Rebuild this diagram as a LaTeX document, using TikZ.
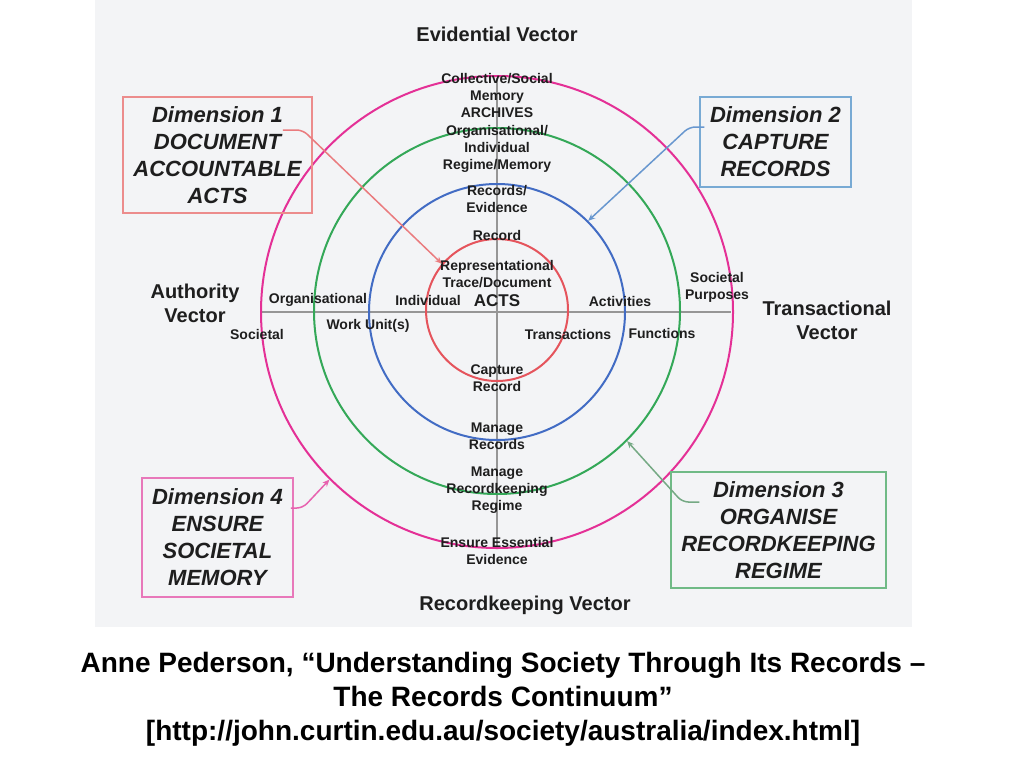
\documentclass[tikz,border=0pt]{standalone}
\usepackage{fontspec}
\setmainfont{Liberation Sans}
\usetikzlibrary{arrows.meta}
\definecolor{rred}{RGB}{229,84,92}
\definecolor{rblue}{RGB}{66,108,196}
\definecolor{rgreen}{RGB}{52,168,88}
\definecolor{rpink}{RGB}{228,48,150}
\definecolor{bred}{RGB}{236,140,140}
\definecolor{bblue}{RGB}{120,170,212}
\definecolor{bgreen}{RGB}{112,186,134}
\definecolor{bpink}{RGB}{232,120,186}
\definecolor{axisgray}{RGB}{150,150,150}
\definecolor{bggray}{RGB}{243,244,246}
\definecolor{ink}{RGB}{30,30,30}

\begin{document}
\begin{tikzpicture}[x=1pt,y=-1pt,>={Stealth[length=7pt,width=6pt]},
    ringline/.style={circle,draw,line width=2pt,inner sep=0pt},
    lbl/.style={align=center,text=ink,font=\fontsize{14}{17}\selectfont\bfseries},
    vec/.style={align=center,text=ink,font=\fontsize{20}{24}\selectfont\bfseries},
    dimbox/.style={draw=#1,line width=1.5pt,align=center,inner sep=0pt,text=ink,
        font=\fontsize{22}{27}\selectfont\bfseries\itshape},
    dimarrow/.style={->,line width=1.5pt,rounded corners=6pt}]
    \useasboundingbox (0,0) rectangle (1024,768);
    \fill[bggray] (95,0) rectangle (912,627);

    % axes
    \coordinate (axn) at (497,78);
    \coordinate (axs) at (497,548);
    \coordinate (axw) at (262,312);
    \coordinate (axe) at (731,312);
    \draw[axisgray,line width=2.5pt] (axn) -- (axs);
    \draw[axisgray,line width=2.5pt] (axw) -- (axe);

    % the four rings
    \node[ringline,rpink,minimum size=472pt] (ringpink) at (497,312) {};
    \node[ringline,rgreen,minimum size=366pt] (ringgreen) at (497,311) {};
    \node[ringline,rblue,minimum size=256pt] (ringblue) at (497,312) {};
    \node[ringline,rred,minimum size=142pt] (ringred) at (497,310) {};

    % vectors
    \node[vec] (evid) at (497,34) {Evidential Vector};
    \node[vec] (auth) at (195,303) {Authority\\Vector};
    \node[vec] (trans) at (827,320) {Transactional\\Vector};
    \node[vec] (rkeep) at (525,605) {Recordkeeping Vector};

    % labels on the evidential / recordkeeping axis
    \node[lbl] (archives) at (497,95) {Collective/Social\\Memory\\ARCHIVES};
    \node[lbl] (regime) at (497,149) {Organisational/\\Individual\\Regime/Memory};
    \node[lbl] (evidence) at (497,199) {Records/\\Evidence};
    \node[lbl] (record) at (497,235) {Record};
    \node[lbl] (trace) at (497,274) {Representational\\Trace/Document};
    \node[lbl,font=\fontsize{17}{20}\selectfont\bfseries] (acts) at (497,301) {ACTS};
    \node[lbl] (capture) at (497,378) {Capture\\Record};
    \node[lbl] (manrec) at (497,436) {Manage\\Records};
    \node[lbl] (manreg) at (497,490) {Manage\\Recordkeeping\\Regime};
    \node[lbl] (ensure) at (497,551) {Ensure Essential\\Evidence};

    % labels on the authority / transactional axis
    \node[lbl] (orgn) at (318,300) {Organisational};
    \node[lbl] (indiv) at (428,300) {Individual};
    \node[lbl] (activ) at (620,301) {Activities};
    \node[lbl] (purp) at (717,287) {Societal\\Purposes};
    \node[lbl] (soc) at (257,334) {Societal};
    \node[lbl] (work) at (368,326) {Work Unit(s)};
    \node[lbl] (transac) at (568,334) {Transactions};
    \node[lbl] (func) at (662,333) {Functions};

    % dimensions
    \node[dimbox=bred,minimum width=189pt,minimum height=116pt] (dimone) at (217.5,155)
        {Dimension 1\\DOCUMENT\\ACCOUNTABLE\\ACTS};
    \node[dimbox=bblue,minimum width=151pt,minimum height=90pt] (dimtwo) at (775.5,142)
        {Dimension 2\\CAPTURE\\RECORDS};
    \node[dimbox=bgreen,minimum width=215pt,minimum height=116pt] (dimthree) at (778.5,530)
        {Dimension 3\\ORGANISE\\RECORDKEEPING\\REGIME};
    \node[dimbox=bpink,minimum width=151pt,minimum height=119pt] (dimfour) at (217.5,537.5)
        {Dimension 4\\ENSURE\\SOCIETAL\\MEMORY};

    \draw[dimarrow,bred!70!rred] ([xshift=-30pt,yshift=25pt]dimone.east) -- ++(20,0) -- (ringred.140);
    \draw[dimarrow,bblue!70!rblue] ([xshift=5pt,yshift=15pt]dimtwo.west) -- ++(-15,0) -- (ringblue.45);
    \draw[dimarrow,bgreen!70!gray] ([xshift=29pt,yshift=28pt]dimthree.west) -- ++(-17,0) -- (ringgreen.-45);
    \draw[dimarrow,bpink!70!rpink] ([xshift=-3pt,yshift=29.5pt]dimfour.east) -- ++(12,0) -- (ringpink.-135);

    % source
    \node[align=center,font=\fontsize{28}{34}\selectfont\bfseries] (source) at (503,699)
        {Anne Pederson, “Understanding Society Through Its Records –\\The Records Continuum”\\{}[http://john.curtin.edu.au/society/australia/index.html]};
\end{tikzpicture}
\end{document}
